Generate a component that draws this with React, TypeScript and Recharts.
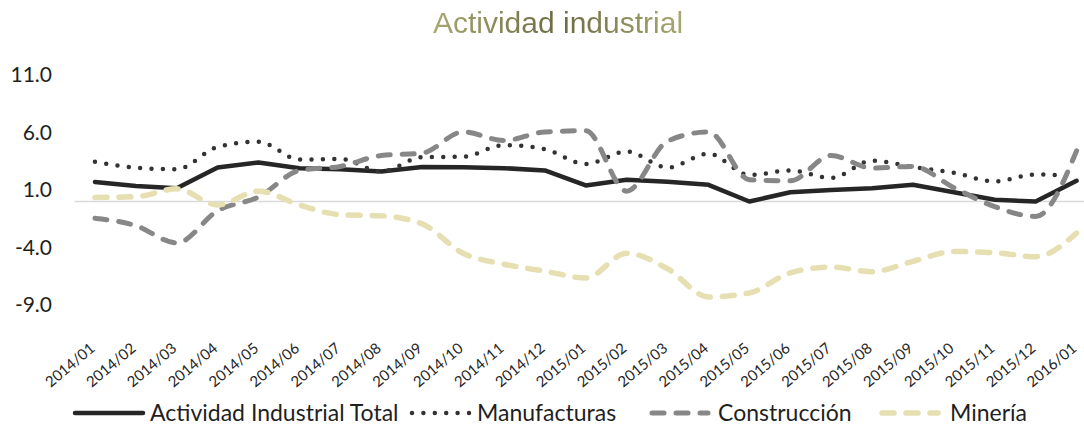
import React from 'react'
import { LineChart, Line, XAxis, YAxis, ReferenceLine } from 'recharts'

const months = [
  '2014/01', '2014/02', '2014/03', '2014/04', '2014/05', '2014/06', '2014/07', '2014/08', '2014/09',
  '2014/10', '2014/11', '2014/12', '2015/01', '2015/02', '2015/03', '2015/04', '2015/05', '2015/06',
  '2015/07', '2015/08', '2015/09', '2015/10', '2015/11', '2015/12', '2016/01',
]
const total = [1.7, 1.35, 1.15, 2.95, 3.4, 2.9, 2.8, 2.6, 3.0, 2.97, 2.9, 2.7, 1.4, 1.9, 1.72, 1.45, 0.0, 0.8, 1.0, 1.15, 1.45, 0.8, 0.15, 0.0, 1.8]
const manufacturas = [3.45, 2.95, 2.8, 4.75, 5.2, 3.65, 3.7, 2.6, 3.85, 3.9, 4.9, 4.55, 3.25, 4.35, 2.95, 4.15, 2.3, 2.7, 2.05, 3.55, 3.0, 2.5, 1.75, 2.35, 2.2]
const construccion = [-1.45, -2.1, -3.6, -0.8, 0.4, 2.7, 3.05, 4.0, 4.2, 6.05, 5.3, 6.05, 6.15, 0.9, 5.25, 6.05, 1.9, 1.8, 4.0, 2.9, 3.05, 1.2, -0.45, -1.3, 4.4]
const mineria = [0.35, 0.42, 1.1, -0.3, 0.9, -0.3, -1.15, -1.25, -1.95, -4.5, -5.45, -6.05, -6.65, -4.5, -5.85, -8.3, -7.95, -6.2, -5.7, -6.1, -5.2, -4.35, -4.45, -4.8, -2.75]
const yTicks = [-9, -4, 1, 6, 11]

const FONT = "Lato, 'Open Sans', sans-serif"

const series = [
  { key: 'total', name: 'Actividad Industrial Total', color: '#262626', width: 4.5, dash: undefined, curve: 'linear', lx: 75, len: 68, tx: 150 },
  { key: 'manufacturas', name: 'Manufacturas', color: '#333333', width: 4.5, dash: '0 11.4', curve: 'monotone', lx: 412, len: 57, tx: 477 },
  { key: 'construccion', name: 'Construcción', color: '#878787', width: 5, dash: '12 12', curve: 'monotone', lx: 652, len: 56, tx: 718 },
  { key: 'mineria', name: 'Minería', color: '#e6dfb2', width: 5.5, dash: '12 12', curve: 'monotone', lx: 882, len: 56, tx: 950 },
]

const data = months.map((m, i) => ({
  month: m,
  total: total[i],
  manufacturas: manufacturas[i],
  construccion: construccion[i],
  mineria: mineria[i],
}))

const MonthTick = ({ x, y, payload }: any) => {
  const ax = x + 1
  const ay = y + 45
  return (
    <text x={ax} y={ay} transform={`rotate(-40 ${ax} ${ay})`} textAnchor="end"
      fontSize={15} fill="#262626" fontFamily={FONT}>
      {payload.value}
    </text>
  )
}

const ChartLegend = () => (
  <svg width={1084} height={40} style={{ position: 'absolute', left: 0, top: 395 }}>
    {series.map(s => (
      <g key={s.key}>
        <line x1={s.lx} x2={s.lx + s.len} y1={18} y2={18} stroke={s.color} strokeWidth={s.width}
          strokeDasharray={s.dash} strokeLinecap="round" />
        <text x={s.tx} y={26} fontSize={23} fill="#1f1f1f" fontFamily={FONT}>{s.name}</text>
      </g>
    ))}
  </svg>
)

export default function App() {
  return (
    <div style={{ position: 'absolute', left: 0, top: 0, width: 1084, height: 425, overflow: 'hidden', background: '#fff' }}>
      <div style={{
        position: 'absolute', top: 8, left: 0, width: 1084, paddingLeft: 32, boxSizing: 'border-box',
        textAlign: 'center', fontFamily: "'Liberation Sans', Arial, sans-serif", fontSize: 30, lineHeight: '30px',
      }}>
        <span style={{
          background: 'linear-gradient(90deg, #a8a872, #6b6b43 50%, #a8a872)',
          WebkitBackgroundClip: 'text', backgroundClip: 'text', color: 'transparent',
        }}>Actividad industrial</span>
      </div>
      <div style={{ position: 'absolute', left: 0, top: 0 }}>
        <LineChart width={1110} height={425} data={data} margin={{ top: 75, right: 13, bottom: 0, left: 0 }}>
          <XAxis dataKey="month" interval={0} height={120} axisLine={false} tickLine={false}
            tickSize={0} tickMargin={0} padding={{ left: 20.45, right: 20.45 }} tick={<MonthTick />} />
          <YAxis domain={[-9, 11]} ticks={yTicks} width={74.5} axisLine={false} tickLine={false}
            tickSize={0} tickMargin={22.5} tickFormatter={(v: number) => v.toFixed(1)}
            tick={{ fontSize: 21, fill: '#1f1f1f', fontFamily: FONT }} />
          <ReferenceLine y={0} stroke="#d9d9d9" strokeWidth={1.5} />
          {series.map(s => (
            <Line key={s.key} type={s.curve as any} dataKey={s.key} name={s.name} stroke={s.color}
              strokeWidth={s.width} strokeDasharray={s.dash} strokeLinecap="round" strokeLinejoin="round"
              dot={false} activeDot={false} isAnimationActive={false} />
          ))}
        </LineChart>
      </div>
      <ChartLegend />
    </div>
  )
}
